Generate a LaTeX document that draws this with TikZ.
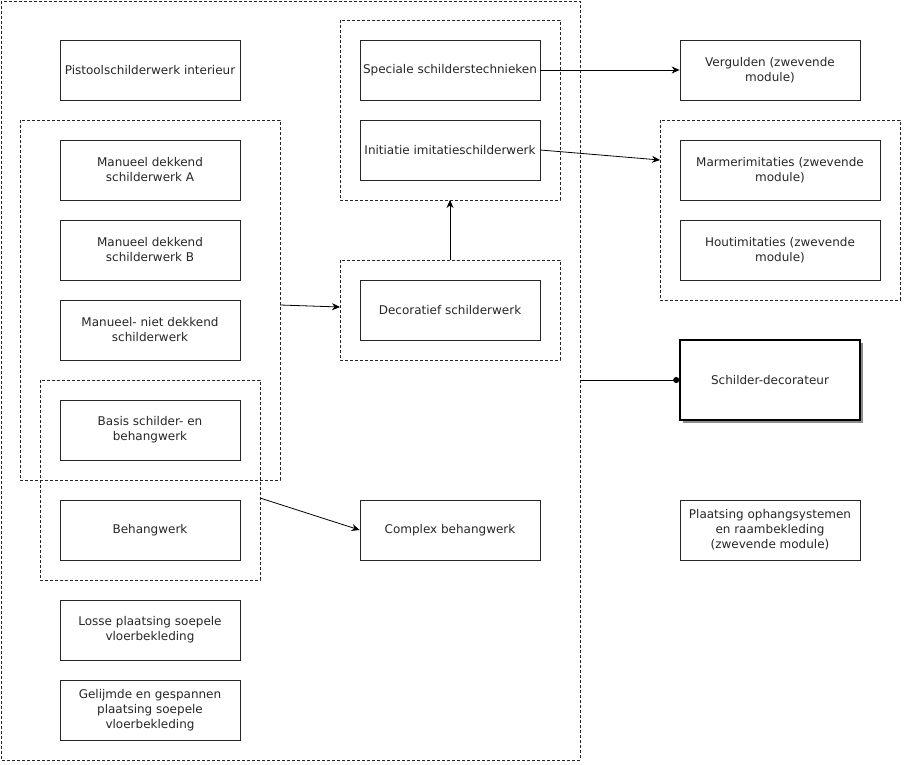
\documentclass[tikz,border=0pt]{standalone}
\usepackage{fontspec}
\setmainfont{DejaVu Sans}
\usetikzlibrary{arrows.meta,shadows}
\begin{document}
\begin{tikzpicture}[x=1pt,y=-1pt,
  box/.style={draw=black!85,line width=0.8pt,minimum width=180pt,minimum height=60pt,inner sep=0pt,align=center,font=\fontsize{12}{15}\selectfont,text=black!85},
  grp/.style={draw=black!85,dashed,line width=0.7pt,dash pattern=on 3pt off 2pt},
  arr/.style={-{Stealth[length=8pt,width=7pt]},line width=0.8pt,draw=black}
]
\useasboundingbox (0,0) rectangle (905,765);
% groups
\draw[grp] (1,1) rectangle (580,760) coordinate (outerBR);
\coordinate (outerR) at (580,380);
\draw[grp] (20,120) rectangle (280,480);
\coordinate (manR) at (280,305);
\draw[grp] (40,380) rectangle (260,580);
\coordinate (basR) at (260,498);
\draw[grp] (340,20) rectangle (560,200);
\coordinate (spB) at (450,200);
\draw[grp] (340,260) rectangle (560,360);
\coordinate (decT) at (450,260);
\coordinate (decL) at (340,307);
\draw[grp] (660,120) rectangle (900,300);
\coordinate (marL) at (660,160);
% boxes
\node[box] (pist) at (150,70) {Pistoolschilderwerk interieur};
\node[box] (mA) at (150,170) {Manueel dekkend\\schilderwerk A};
\node[box] (mB) at (150,250) {Manueel dekkend\\schilderwerk B};
\node[box] (mN) at (150,330) {Manueel- niet dekkend\\schilderwerk};
\node[box] (bas) at (150,430) {Basis schilder- en\\behangwerk};
\node[box] (beh) at (150,530) {Behangwerk};
\node[box] (los) at (150,630) {Losse plaatsing soepele\\vloerbekleding};
\node[box] (gel) at (150,710) {Gelijmde en gespannen\\plaatsing soepele\\vloerbekleding};
\node[box] (spec) at (450,70) {Speciale schilderstechnieken};
\node[box] (init) at (450,150) {Initiatie imitatieschilderwerk};
\node[box] (deco) at (450,310) {Decoratief schilderwerk};
\node[box] (comp) at (450,530) {Complex behangwerk};
\node[box] (verg) at (770,70) {Vergulden (zwevende\\module)};
\node[box,minimum width=200pt] (marm) at (780,170) {Marmerimitaties (zwevende\\module)};
\node[box,minimum width=200pt] (hout) at (780,250) {Houtimitaties (zwevende\\module)};
\node[box,line width=1.6pt,draw=black,minimum height=80pt,fill=white,drop shadow={shadow xshift=3pt,shadow yshift=-3pt,fill=black!45,opacity=1}] (sd) at (770,380) {Schilder-decorateur};
\node[box] (plaat) at (770,530) {Plaatsing ophangsystemen\\en raambekleding\\(zwevende module)};
% connectors
\draw[arr] (spec.east) -- (verg.west);
\draw[arr] (init.east) -- (marL);
\draw[arr] (manR) -- (decL);
\draw[arr] (decT) -- (spB);
\draw[arr] (basR) -- (comp.west);
\draw[line width=0.8pt,-{Circle[length=6pt]}] (outerR) -- (sd.west);
\end{tikzpicture}
\end{document}
